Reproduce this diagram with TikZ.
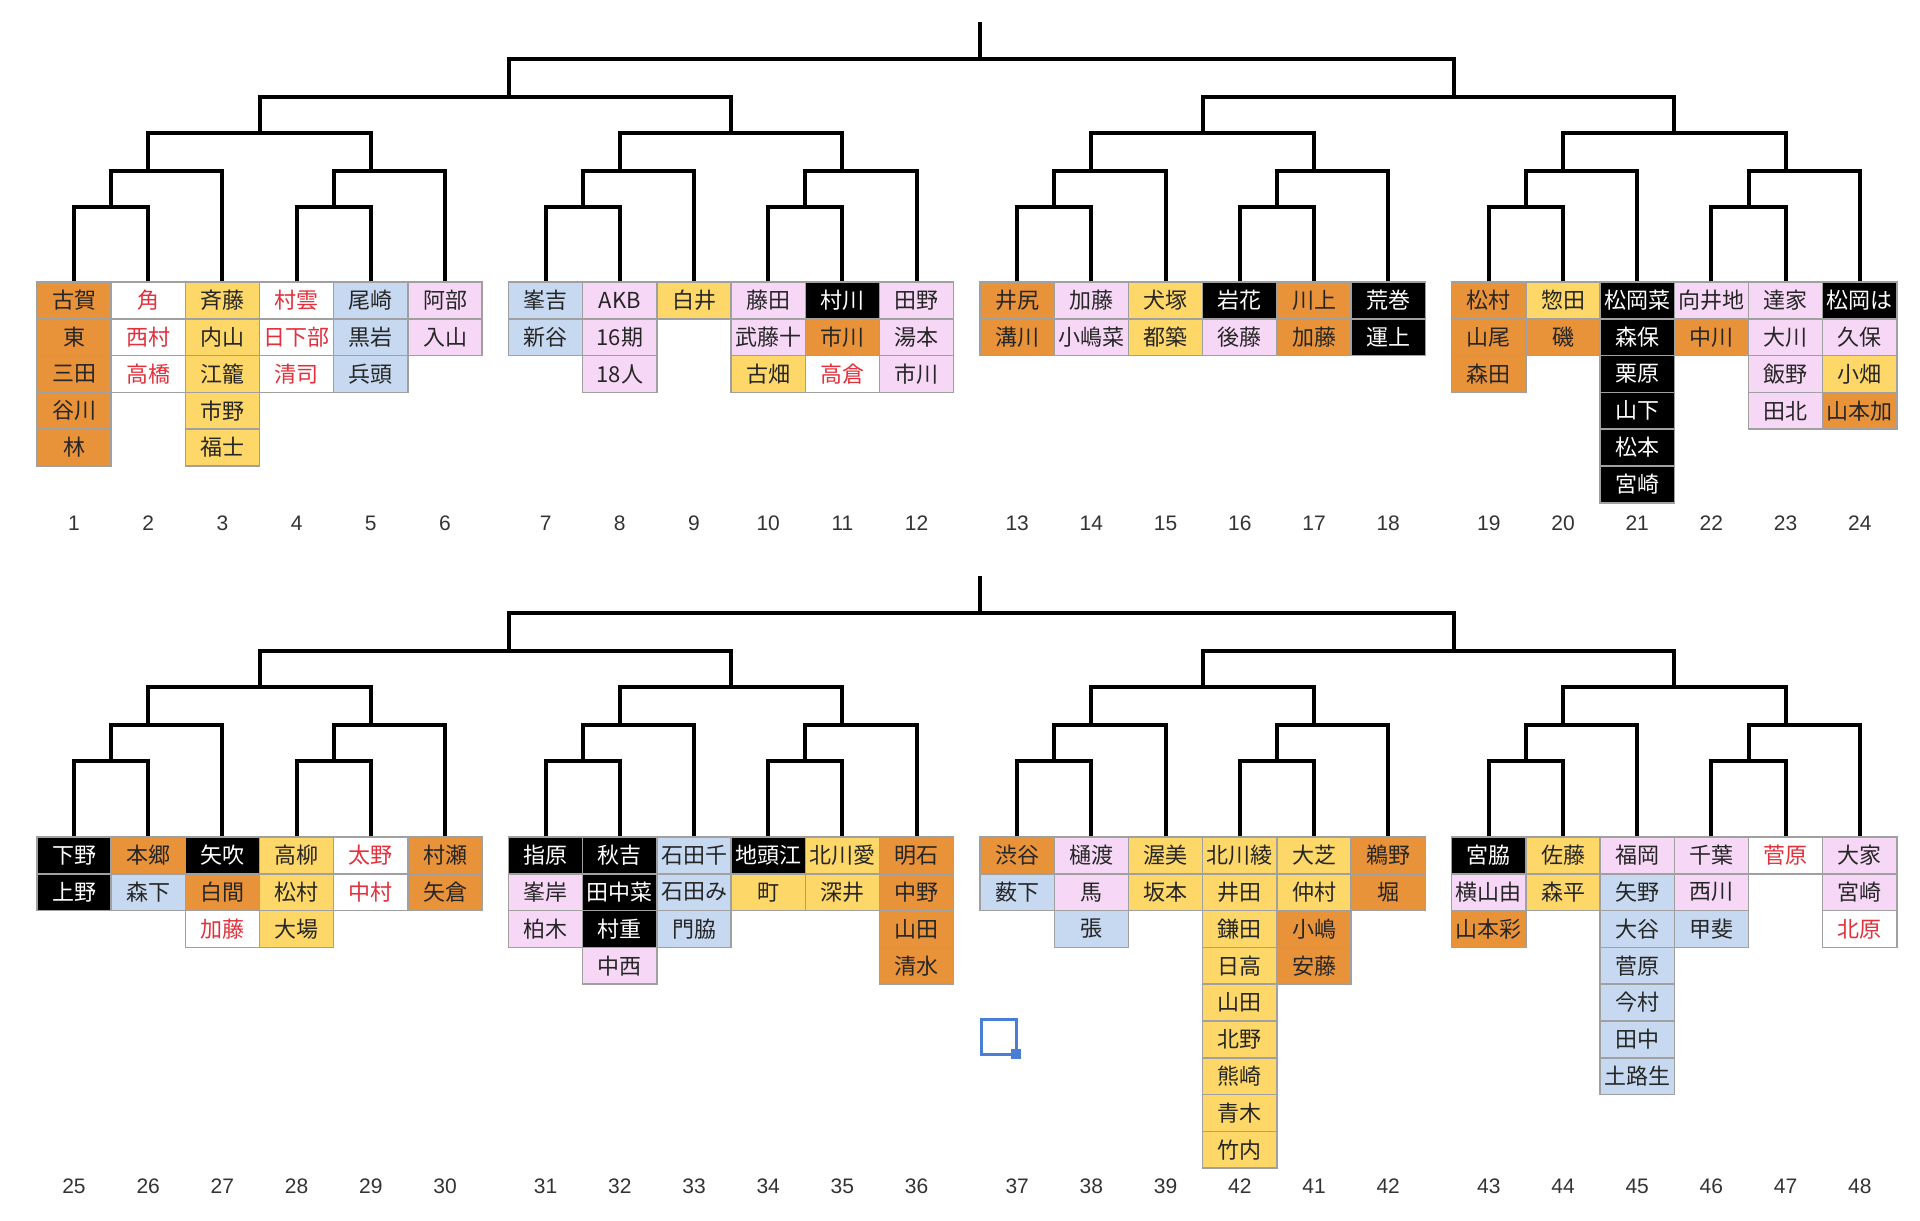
\documentclass[tikz,border=0pt]{standalone}
\usepackage{fontspec}
\newfontfamily\cjk{Noto Sans CJK JP}
\newfontfamily\numfont{Liberation Sans}
\definecolor{cellorange}{RGB}{232,146,58}
\definecolor{cellyellow}{RGB}{253,216,104}
\definecolor{cellpink}{RGB}{246,216,246}
\definecolor{cellblue}{RGB}{198,217,240}
\definecolor{cellgrid}{RGB}{160,160,160}
\definecolor{namered}{RGB}{226,48,60}
\definecolor{handleblue}{RGB}{74,126,212}
\tikzstyle{nameCell} = [
 rectangle,
 draw=cellgrid,
 line width=1.5pt,
 minimum width=74.2pt,
 minimum height=36.8pt,
 inner sep=0pt,
 text=black!85,
 font=\cjk\fontsize{22}{22}\selectfont
]
\tikzstyle{orangeCell} = [nameCell, fill=cellorange]
\tikzstyle{yellowCell} = [nameCell, fill=cellyellow]
\tikzstyle{pinkCell} = [nameCell, fill=cellpink]
\tikzstyle{blueCell} = [nameCell, fill=cellblue]
\tikzstyle{blackCell} = [nameCell, fill=black, text=white]
\tikzstyle{whiteCell} = [nameCell, fill=white, text=namered]
\tikzstyle{colNumber} = [
 text=black!80,
 font=\numfont\fontsize{21}{21}\selectfont
]
\tikzstyle{bracket} = [
 line width=4pt,
 line join=miter
]

\begin{document}
\begin{tikzpicture}[x=1pt,y=-1pt]
  \useasboundingbox (0,0) rectangle (1920,1221);

  % columns of names, with their numbers below
  \foreach \n/\lab/\cells in {
    1/1/{orangeCell/古賀,orangeCell/東,orangeCell/三田,orangeCell/谷川,orangeCell/林},
    2/2/{whiteCell/角,whiteCell/西村,whiteCell/高橋},
    3/3/{yellowCell/斉藤,yellowCell/内山,yellowCell/江籠,yellowCell/市野,yellowCell/福士},
    4/4/{whiteCell/村雲,whiteCell/日下部,whiteCell/清司},
    5/5/{blueCell/尾崎,blueCell/黒岩,blueCell/兵頭},
    6/6/{pinkCell/阿部,pinkCell/入山},
    7/7/{blueCell/峯吉,blueCell/新谷},
    8/8/{pinkCell/AKB,pinkCell/16期,pinkCell/18人},
    9/9/{yellowCell/白井},
    10/10/{pinkCell/藤田,pinkCell/武藤十,yellowCell/古畑},
    11/11/{blackCell/村川,orangeCell/市川,whiteCell/高倉},
    12/12/{pinkCell/田野,pinkCell/湯本,pinkCell/市川},
    13/13/{orangeCell/井尻,orangeCell/溝川},
    14/14/{pinkCell/加藤,pinkCell/小嶋菜},
    15/15/{yellowCell/犬塚,yellowCell/都築},
    16/16/{blackCell/岩花,pinkCell/後藤},
    17/17/{orangeCell/川上,orangeCell/加藤},
    18/18/{blackCell/荒巻,blackCell/運上},
    19/19/{orangeCell/松村,orangeCell/山尾,orangeCell/森田},
    20/20/{yellowCell/惣田,orangeCell/磯},
    21/21/{blackCell/松岡菜,blackCell/森保,blackCell/栗原,blackCell/山下,blackCell/松本,blackCell/宮崎},
    22/22/{pinkCell/向井地,orangeCell/中川},
    23/23/{pinkCell/達家,pinkCell/大川,pinkCell/飯野,pinkCell/田北},
    24/24/{blackCell/松岡は,pinkCell/久保,yellowCell/小畑,orangeCell/山本加},
    25/25/{blackCell/下野,blackCell/上野},
    26/26/{orangeCell/本郷,blueCell/森下},
    27/27/{blackCell/矢吹,orangeCell/白間,whiteCell/加藤},
    28/28/{yellowCell/高柳,yellowCell/松村,yellowCell/大場},
    29/29/{whiteCell/太野,whiteCell/中村},
    30/30/{orangeCell/村瀬,orangeCell/矢倉},
    31/31/{blackCell/指原,pinkCell/峯岸,pinkCell/柏木},
    32/32/{blackCell/秋吉,blackCell/田中菜,blackCell/村重,pinkCell/中西},
    33/33/{blueCell/石田千,blueCell/石田み,blueCell/門脇},
    34/34/{blackCell/地頭江,yellowCell/町},
    35/35/{yellowCell/北川愛,yellowCell/深井},
    36/36/{orangeCell/明石,orangeCell/中野,orangeCell/山田,orangeCell/清水},
    37/37/{orangeCell/渋谷,blueCell/薮下},
    38/38/{pinkCell/樋渡,pinkCell/馬,blueCell/張},
    39/39/{yellowCell/渥美,yellowCell/坂本},
    40/42/{yellowCell/北川綾,yellowCell/井田,yellowCell/鎌田,yellowCell/日高,yellowCell/山田,yellowCell/北野,yellowCell/熊崎,yellowCell/青木,yellowCell/竹内},
    41/41/{yellowCell/大芝,yellowCell/仲村,orangeCell/小嶋,orangeCell/安藤},
    42/42/{orangeCell/鵜野,orangeCell/堀},
    43/43/{blackCell/宮脇,pinkCell/横山由,orangeCell/山本彩},
    44/44/{yellowCell/佐藤,yellowCell/森平},
    45/45/{pinkCell/福岡,blueCell/矢野,blueCell/大谷,blueCell/菅原,blueCell/今村,blueCell/田中,blueCell/土路生},
    46/46/{pinkCell/千葉,pinkCell/西川,blueCell/甲斐},
    47/47/{whiteCell/菅原},
    48/48/{pinkCell/大家,pinkCell/宮崎,whiteCell/北原}%
  }{
    \pgfmathtruncatemacro\m{\n}
    \pgfmathtruncatemacro\j{mod(\m-1,24)}
    \pgfmathsetmacro\cx{74+471.6*floor(\j/6)+74.2*mod(\j,6)}
    \pgfmathsetmacro\ytop{ifthenelse(\m>24,837,282)}
    \pgfmathsetmacro\ylab{ifthenelse(\m>24,1186,523)}
    \foreach \st/\txt [count=\r from 0] in \cells {
      \node[\st] (c\m-\r) at (\cx,\ytop+36.8*\r+18.4) {\txt};
    }
    \node[colNumber] (lab\m) at (\cx,\ylab) {\lab};
  }

  % the two brackets
  \foreach \h/\yt in {0/0,1/554} {
    \foreach \g in {0,...,3} {
      \pgfmathtruncatemacro\ca{24*\h+6*\g+1}
      \pgfmathtruncatemacro\cb{\ca+1}
      \pgfmathtruncatemacro\cc{\ca+2}
      \pgfmathtruncatemacro\cd{\ca+3}
      \pgfmathtruncatemacro\ce{\ca+4}
      \pgfmathtruncatemacro\cf{\ca+5}
      \pgfmathsetmacro\xo{74+471.6*\g}
      \coordinate (eL\h\g) at (\xo+37.1,207+\yt);
      \coordinate (eR\h\g) at (\xo+259.7,207+\yt);
      \coordinate (dL\h\g) at (\xo+37.1,171+\yt);
      \coordinate (dR\h\g) at (\xo+259.7,171+\yt);
      \coordinate (dB\h\g) at (\xo+74.2,171+\yt);
      \coordinate (dE\h\g) at (\xo+296.8,171+\yt);
      \coordinate (cM\h\g) at (\xo+185.5,133+\yt);
      \draw[bracket] (c\ca-0.north) |- (eL\h\g) -| (c\cb-0.north);
      \draw[bracket] (c\cd-0.north) |- (eR\h\g) -| (c\ce-0.north);
      \draw[bracket] (eL\h\g) -- (dL\h\g) -| (c\cc-0.north);
      \draw[bracket] (eR\h\g) -- (dR\h\g) -| (c\cf-0.north);
      \draw[bracket] (dB\h\g) |- (cM\h\g) -| (dE\h\g);
    }
    \coordinate (bL\h) at (509,97+\yt);
    \coordinate (bR\h) at (1454,97+\yt);
    \coordinate (aM\h) at (980,59+\yt);
    \coordinate (root\h) at (980,22+\yt);
    \draw[bracket] (cM\h0) |- (bL\h) -| (cM\h1);
    \draw[bracket] (cM\h2) |- (bR\h) -| (cM\h3);
    \draw[bracket] (bL\h) |- (aM\h) -| (bR\h);
    \draw[bracket] (aM\h) -- (root\h);
  }

  % selection handle
  \draw[handleblue, line width=3pt] (981,1019) rectangle (1016,1054);
  \fill[handleblue] (1011,1049) rectangle (1021,1059);
\end{tikzpicture}
\end{document}
